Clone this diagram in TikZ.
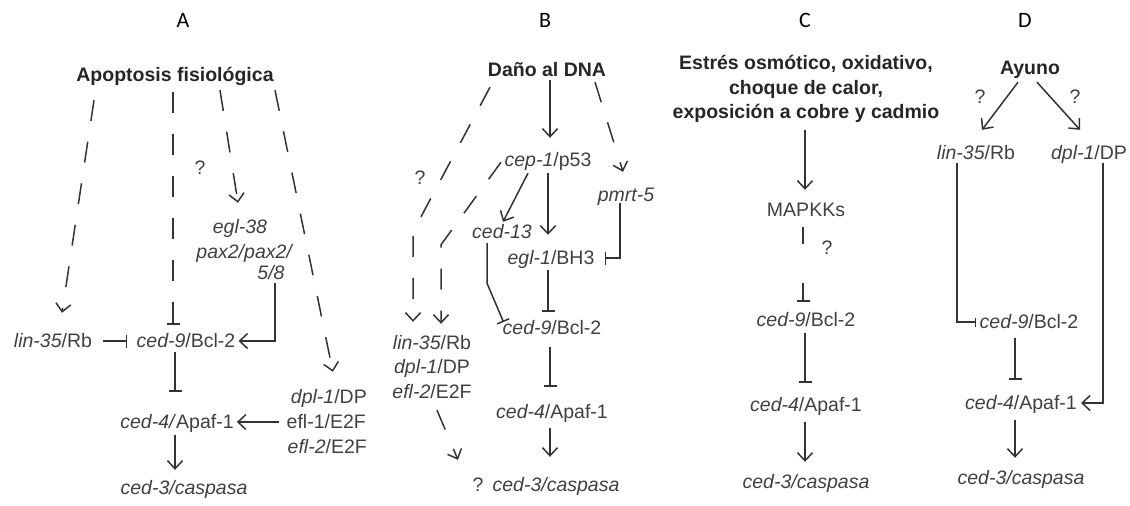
\documentclass[tikz,border=0pt]{standalone}
\usepackage{fontspec}
\setmainfont{Liberation Sans}
\newfontfamily\labfont{Carlito}
\usetikzlibrary{arrows.meta}
\definecolor{ln}{HTML}{333333}
\definecolor{txc}{HTML}{404040}
\definecolor{btc}{HTML}{262626}
\tikzset{
 gn/.style={inner sep=0pt, text height=16pt, text depth=4pt, text=txc, font=\fontsize{19.5}{24.5}\selectfont},
 tb/.style={gn, text=btc, font=\fontsize{19.5}{24.5}\selectfont\bfseries},
 tbm/.style={inner sep=0pt, align=center, text=btc, font=\fontsize{19.5}{24.5}\selectfont\bfseries},
 lab/.style={inner sep=0pt, text=black, font=\labfont\fontsize{22}{26}\selectfont},
 act/.style={draw=ln, line width=1.5pt, -{Straight Barb[length=8pt,width=15pt]}},
 inh/.style={draw=ln, line width=1.5pt, -{Bar[width=13pt]}},
 dsh/.style={dash pattern=on 21pt off 21pt},
}
\begin{document}
\begin{tikzpicture}[x=1pt,y=-1pt]
\fill[white] (0,0) rectangle (1130,506);
\useasboundingbox (0,0) rectangle (1130,506);
% ---------- Panel A ----------
\node[lab] (labA) at (183,20) {A};
\node[tb] (apo) at (175,75) {Apoptosis fisiológica};
\node[gn] (qA) at (200,168) {?};
\node[gn] (egl38) at (240,227) {\textit{egl-38}};
\node[gn] (pax) at (245,252) {\textit{pax2/pax2/}};
\node[gn] (p58) at (271,273) {\textit{5/8}};
\node[gn] (lin35A) at (53,341) {\textit{lin-35}/Rb};
\node[gn] (c9A) at (186,341) {\textit{ced-9}/Bcl-2};
\node[gn] (c4A) at (177,422) {\textit{ced-4/}Apaf-1};
\node[gn] (c3A) at (184,488) {\textit{ced-3/caspasa}};
\node[gn,anchor=east] (dpA) at (367,397) {\textit{dpl-1}/DP};
\node[gn,anchor=east] (ef1A) at (366,422) {efl-1/E2F};
\node[gn,anchor=east] (ef2A) at (367,447) {\textit{efl-2}/E2F};
\draw[act,dsh] ([shift={(-81,15)}]apo.south) -- ([shift={(9,-18)}]lin35A.north);
\draw[inh,dsh] ([shift={(-2,7)}]apo.south) -- ([shift={(-13,-6)}]c9A.north);
\draw[inh] ([shift={(11,0)}]lin35A.east) -- ([shift={(-9,0)}]c9A.west);
\draw[act,dsh] ([shift={(45,5)}]apo.south) -- ([shift={(-2,-14)}]egl38.north);
\draw[act] ([shift={(4,0)}]p58.south) |- ([shift={(3,0)}]c9A.east);
\draw[act,dsh] ([shift={(100,5)}]apo.south) -- ([shift={(4,-15)}]dpA.north);
\draw[inh] ([shift={(-11,1)}]c9A.south) -- ([shift={(-2,-20)}]c4A.north);
\draw[act] ([shift={(-7,0)}]ef1A.west) -- ([shift={(3,0)}]c4A.east);
\draw[act] ([shift={(-2,3)}]c4A.south) -- ([shift={(-9,-8)}]c3A.north);
% ---------- Panel B ----------
\node[lab] (labB) at (545,20) {B};
\node[tb] (dna) at (547,70) {Daño al DNA};
\node[gn] (cep1) at (548,160) {\textit{cep-1}/p53};
\node[gn] (q1B) at (420,178) {?};
\node[gn] (pmrt) at (626,195) {\textit{pmrt-5}};
\node[gn] (ced13) at (502,232) {\textit{ced-13}};
\node[gn] (egl1) at (551,258) {\textit{egl-1}/BH3};
\node[gn] (c9B) at (552,328) {\textit{ced-9}/Bcl-2};
\node[gn] (c4B) at (552,412) {\textit{ced-4}/Apaf-1};
\node[gn] (q2B) at (478,485) {?};
\node[gn] (c3B) at (556,485) {\textit{ced-3/caspasa}};
\node[gn] (lin35B) at (432,343) {\textit{lin-35}/Rb};
\node[gn] (dpB) at (432,367) {\textit{dpl-1}/DP};
\node[gn] (ef2B) at (432,392) {\textit{efl-2}/E2F};
\draw[act] ([shift={(3,0)}]dna.south) -- ([shift={(2,-12)}]cep1.north);
\draw[act,dsh] ([shift={(-57,7)}]dna.south) -- ([shift={(-19,-101)}]lin35B.north) -- ([shift={(-19,-11)}]lin35B.north);
\draw[act,dsh] ([shift={(-47,-8)}]cep1.south) -- ([shift={(9,-88)}]lin35B.north) -- ([shift={(9,-9)}]lin35B.north);
\draw[act] ([shift={(-20,3)}]cep1.south) -- ([shift={(1,0)}]ced13.north);
\draw[act] ([shift={(0,3)}]cep1.south) -- ([shift={(-3,-13)}]egl1.north);
\draw[act,dsh] ([shift={(48,2)}]dna.south) -- ([shift={(-3,-13)}]pmrt.north);
\draw[inh] ([shift={(-6,-2)}]pmrt.south) |- ([shift={(10,0)}]egl1.east);
\draw[inh] ([shift={(-3,2)}]egl1.south) -- ([shift={(-4,-6)}]c9B.north);
\draw[inh] ([shift={(-15,1)}]ced13.south) -- ([shift={(-15,41)}]ced13.south) -- ([shift={(1,-6)}]c9B.west);
\draw[inh] ([shift={(-2,9)}]c9B.south) -- ([shift={(-2,-15)}]c4B.north);
\draw[act] ([shift={(-2,6)}]c4B.south) -- ([shift={(-6,-18)}]c3B.north);
\draw[act,dsh] ([shift={(5,8)}]ef2B.south) -- ([shift={(-20,-15)}]q2B.north);
% ---------- Panel C ----------
\node[lab] (labC) at (805,20) {C};
\node[tbm] (stress) at (806,89) {Estrés osmótico, oxidativo,\\ choque de calor,\\ exposición a cobre y cadmio};
\node[gn] (mapkk) at (806,210) {MAPKKs};
\node[gn] (qC) at (827,248) {?};
\node[gn] (c9C) at (806,320) {\textit{ced-9}/Bcl-2};
\node[gn] (c4C) at (806,405) {\textit{ced-4}/Apaf-1};
\node[gn] (c3C) at (806,482) {\textit{ced-3/caspasa}};
\draw[act] ([shift={(-1,7)}]stress.south) -- ([shift={(-1,-10)}]mapkk.north);
\draw[inh,dash pattern=on 17pt off 39pt] ([shift={(-3,7)}]mapkk.south) -- ([shift={(-3,-8)}]c9C.north);
\draw[inh] ([shift={(-1,3)}]c9C.south) -- ([shift={(-1,-12)}]c4C.north);
\draw[act] ([shift={(-1,7)}]c4C.south) -- ([shift={(-1,-10)}]c3C.north);
% ---------- Panel D ----------
\node[lab] (labD) at (1025,20) {D};
\node[tb] (ayuno) at (1030,68) {Ayuno};
\node[gn] (qD1) at (980,97) {?};
\node[gn] (qD2) at (1075,97) {?};
\node[gn] (lin35D) at (976,153) {\textit{lin-35}/Rb};
\node[gn] (dpD) at (1089,153) {\textit{dpl-1}/DP};
\node[gn] (c9D) at (1029,322) {\textit{ced-9}/Bcl-2};
\node[gn] (c4D) at (1021,403) {\textit{ced-4}/Apaf-1};
\node[gn] (c3D) at (1021,478) {\textit{ced-3/caspasa}};
\draw[act] ([shift={(-12,4)}]ayuno.south) -- ([shift={(6,-13)}]lin35D.north);
\draw[act] ([shift={(7,4)}]ayuno.south) -- ([shift={(-9,-13)}]dpD.north);
\draw[inh,-{Bar[width=9pt]}] ([shift={(-19,0)}]lin35D.south) |- ([shift={(-3,0)}]c9D.west);
\draw[inh] ([shift={(-14,6)}]c9D.south) -- ([shift={(-6,-13)}]c4D.north);
\draw[act] ([shift={(14,0)}]dpD.south) |- ([shift={(4,0)}]c4D.east);
\draw[act] ([shift={(-6,7)}]c4D.south) -- ([shift={(-6,-10)}]c3D.north);
\end{tikzpicture}
\end{document}
